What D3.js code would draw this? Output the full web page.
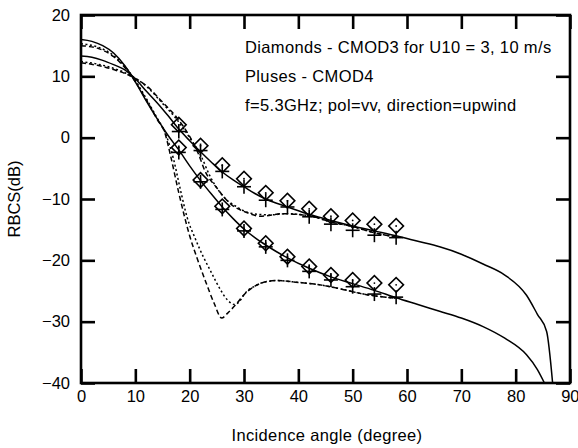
<!DOCTYPE html>
<html>
<head>
<meta charset="utf-8">
<script src="https://cdn.jsdelivr.net/npm/d3@7"></script>
<style>
  body { margin: 0; background: #fff; }
  text { font-family: "Liberation Sans", Arial, sans-serif; fill: #000; }
</style>
</head>
<body>
<div id="chart"></div>
<script>
// marker angles (deg)
var angles = [18, 22, 26, 30, 34, 38, 42, 46, 50, 54, 58];

// U10 = 10 m/s
var cmod3Hi = [2.1, -1.3, -4.5, -6.7, -9.0, -10.3, -11.6, -12.8, -13.5, -14.1, -14.4];
var cmod4Hi = [1.0, -2.1, -5.5, -8.0, -10.2, -11.3, -12.9, -14.1, -15.1, -15.9, -16.3];
// U10 = 3 m/s
var cmod3Lo = [-1.6, -6.9, -11.2, -14.8, -17.2, -19.4, -21.0, -22.4, -23.2, -23.7, -24.0];
var cmod4Lo = [-2.4, -7.2, -11.7, -15.2, -17.8, -20.0, -21.8, -23.2, -24.3, -25.5, -26.0];

// model curves: solid
var solidHiX = [0, 2, 4, 6, 8, 10, 12, 14, 16, 18, 20, 22, 24, 26, 28, 30, 32, 34, 36, 38, 42, 46, 50, 54, 58, 62, 66, 70, 74, 78, 82, 84, 85.7, 86.8];
var solidHiY = [13.3, 13.1, 12.6, 11.9, 11.1, 9.6, 7.6, 5.7, 3.6, 1.4, -0.5, -2.3, -4.0, -5.6, -6.9, -8.0, -9.1, -10.0, -10.7, -11.3, -12.5, -13.5, -14.4, -15.2, -16.0, -16.9, -17.8, -19.0, -20.6, -22.4, -25.7, -28.8, -31.6, -40];
var solidLoX = [0, 2, 4, 6, 8, 10, 12, 14, 16, 18, 20, 22, 24, 26, 28, 30, 32, 34, 36, 38, 42, 46, 50, 54, 58, 62, 66, 70, 74, 78, 82, 84, 85.3];
var solidLoY = [16.0, 15.7, 15.0, 13.8, 11.8, 9.1, 6.0, 3.1, 0.4, -2.0, -4.6, -7.0, -9.2, -11.3, -13.2, -14.9, -16.3, -17.5, -18.6, -19.6, -21.3, -22.7, -23.8, -24.9, -26.1, -27.2, -28.3, -29.4, -30.8, -32.7, -35.4, -37.8, -40];

// dashed curves
var dashHiX = [0, 3, 6, 9, 12, 15, 17.6, 20, 21.5, 22.8, 25, 27.4, 30.5, 33, 37.2, 42.8, 45.8, 50, 54, 58];
var dashHiY = [12.2, 11.8, 11.1, 10.1, 8.5, 5.8, 3.3, 0.2, -2.4, -5.4, -8.2, -10.7, -12.2, -12.8, -12.4, -12.9, -13.7, -14.5, -15.5, -16.2];
var dashLoX = [0, 3, 6, 9, 12, 14, 15.5, 16.5, 18, 20, 21.5, 23, 24.5, 25.9, 27, 28.7, 30, 32, 34, 36, 40, 44, 48, 52, 56, 58];
var dashLoY = [15.0, 14.6, 13.2, 10.4, 6.2, 3.0, 0.6, -3.0, -9.0, -16.0, -20.0, -23.6, -27.0, -29.4, -28.6, -27.0, -25.6, -24.2, -23.5, -23.3, -23.6, -24.0, -24.7, -25.5, -26.0, -26.2];

// dotted curves
var dotHiX = [0, 3, 6, 9, 12, 15, 17.6, 20, 22, 23.7, 26.2, 28.7, 31.1, 34.8, 37.9, 42.8, 45.8, 50, 54, 58];
var dotHiY = [12.4, 12.0, 11.3, 10.2, 8.4, 5.6, 3.0, 0.0, -2.8, -6.2, -9.6, -11.3, -12.3, -12.6, -12.4, -12.9, -13.7, -14.5, -15.5, -16.2];
var dotLoX = [0, 3, 6, 9, 12, 14, 15.5, 17, 18.3, 19.5, 21, 22.5, 24, 25.6, 27, 28.3, 29.5, 30, 32, 34, 36, 40, 44, 48, 52, 56, 58];
var dotLoY = [15.3, 14.8, 13.4, 10.6, 6.4, 3.2, 0.8, -3.4, -8.5, -12.9, -16.4, -19.4, -22.0, -24.7, -26.5, -27.2, -26.3, -25.6, -24.2, -23.5, -23.3, -23.6, -24.0, -24.7, -25.5, -26.0, -26.2];

var xTicks = [0, 10, 20, 30, 40, 50, 60, 70, 80, 90];
var yTicks = [-40, -30, -20, -10, 0, 10, 20];

var notes = [
  "Diamonds - CMOD3 for U10 = 3, 10 m/s",
  "Pluses - CMOD4",
  "f=5.3GHz; pol=vv, direction=upwind"
];

/*=== SVG ===*/
var svgWidth = 578, svgHeight = 448;
var plot = { left: 81, right: 570, top: 15, bottom: 383 };
var fontSize = "16.5px";

var svg = d3.select("#chart").append("svg")
  .attr("width", svgWidth)
  .attr("height", svgHeight);

var xScale = d3.scaleLinear().domain([0, 90]).range([plot.left, plot.right]);
var yScale = d3.scaleLinear().domain([-40, 20]).range([plot.bottom, plot.top]);

/*=== AXES (ticks inside, on all four sides) ===*/
function styleAxis(g) {
  g.select(".domain").remove();
  g.selectAll(".tick line").attr("stroke", "#000").attr("stroke-width", 2.6);
  g.selectAll(".tick text").style("font-size", fontSize).attr("fill", "#000");
}

svg.append("g")
  .attr("transform", `translate(0,${plot.bottom})`)
  .call(d3.axisBottom(xScale).tickValues(xTicks).tickSizeInner(-14).tickSizeOuter(0).tickPadding(6))
  .call(styleAxis)
  .call(g => g.selectAll(".tick text").attr("dy", "0.8em"))
  // keep the last label inside the page
  .call(g => g.selectAll(".tick text").filter(d => d === 90).attr("text-anchor", "end").attr("dx", "9px"));

svg.append("g")
  .attr("transform", `translate(0,${plot.top})`)
  .call(d3.axisTop(xScale).tickValues(xTicks).tickSizeInner(-14).tickSizeOuter(0).tickFormat(""))
  .call(styleAxis);

svg.append("g")
  .attr("transform", `translate(${plot.left},0)`)
  .call(d3.axisLeft(yScale).tickValues(yTicks).tickSizeInner(-14).tickSizeOuter(0).tickPadding(11))
  .call(styleAxis);

svg.append("g")
  .attr("transform", `translate(${plot.right},0)`)
  .call(d3.axisRight(yScale).tickValues(yTicks).tickSizeInner(-14).tickSizeOuter(0).tickFormat(""))
  .call(styleAxis);

// frame
svg.append("rect")
  .attr("x", plot.left).attr("y", plot.top)
  .attr("width", plot.right - plot.left)
  .attr("height", plot.bottom - plot.top)
  .attr("fill", "none").attr("stroke", "#000").attr("stroke-width", 2.6);

/*=== CURVES ===*/
svg.append("clipPath").attr("id", "clip")
  .append("rect")
  .attr("x", plot.left).attr("y", plot.top)
  .attr("width", plot.right - plot.left)
  .attr("height", plot.bottom - plot.top);

var line = d3.line()
  .x(d => xScale(d[0]))
  .y(d => yScale(d[1]))
  .curve(d3.curveMonotoneX);

function zip(xs, ys) { return xs.map((x, i) => [x, ys[i]]); }

var curves = [
  { pts: zip(solidHiX, solidHiY), dash: null },
  { pts: zip(solidLoX, solidLoY), dash: null },
  { pts: zip(dashHiX, dashHiY), dash: "5,3" },
  { pts: zip(dashLoX, dashLoY), dash: "5,3" },
  { pts: zip(dotHiX, dotHiY), dash: "2,2.5" },
  { pts: zip(dotLoX, dotLoY), dash: "2,2.5" }
];

svg.append("g").attr("clip-path", "url(#clip)")
  .selectAll("path")
  .data(curves)
  .enter()
  .append("path")
  .attr("d", d => line(d.pts))
  .attr("fill", "none")
  .attr("stroke", "#000")
  .attr("stroke-width", 1.5)
  .attr("stroke-dasharray", d => d.dash);

/*=== MARKERS ===*/
var diamonds = zip(angles, cmod3Hi).concat(zip(angles, cmod3Lo));
var pluses = zip(angles, cmod4Hi).concat(zip(angles, cmod4Lo));

var diamondSym = d3.symbol().type(d3.symbolSquare).size(108);

var dg = svg.append("g").selectAll("g")
  .data(diamonds)
  .enter()
  .append("g")
  .attr("transform", d => `translate(${xScale(d[0])},${yScale(d[1])})`);

dg.append("path")
  .attr("d", diamondSym)
  .attr("transform", "rotate(45)")
  .attr("fill", "none")
  .attr("stroke", "#000")
  .attr("stroke-width", 1.6);

dg.append("circle").attr("r", 0.9).attr("fill", "#000");

var arm = 7;
var pg = svg.append("g").selectAll("g")
  .data(pluses)
  .enter()
  .append("g")
  .attr("transform", d => `translate(${xScale(d[0])},${yScale(d[1])})`);

pg.append("line").attr("x1", -arm).attr("x2", arm).attr("y1", 0).attr("y2", 0)
  .attr("stroke", "#000").attr("stroke-width", 1.6);
pg.append("line").attr("x1", 0).attr("x2", 0).attr("y1", -arm).attr("y2", arm)
  .attr("stroke", "#000").attr("stroke-width", 1.6);

/*=== TEXT ===*/
svg.append("g").selectAll("text")
  .data(notes)
  .enter()
  .append("text")
  .attr("x", 245)
  .attr("y", (d, i) => 53 + i * 29)
  .style("font-size", fontSize)
  .style("letter-spacing", "0.35px")
  .text(d => d);

svg.append("text")
  .attr("x", 327)
  .attr("y", 441)
  .attr("text-anchor", "middle")
  .style("font-size", fontSize)
  .style("letter-spacing", "0.35px")
  .text("Incidence angle (degree)");

svg.append("text")
  .attr("transform", `translate(20,${(plot.top + plot.bottom) / 2}) rotate(-90)`)
  .attr("text-anchor", "middle")
  .style("font-size", fontSize)
  .text("RBCS(dB)");
</script>
</body>
</html>
